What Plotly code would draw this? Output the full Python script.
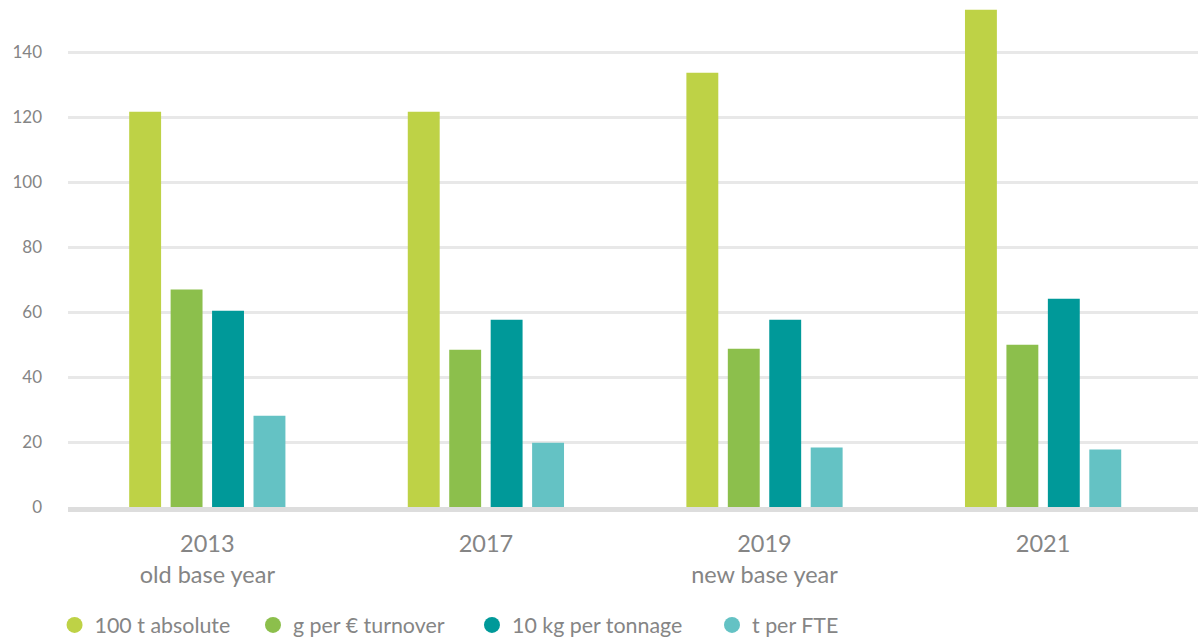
import plotly.graph_objects as go

categories = ["2013<br>old base year", "2017", "2019<br>new base year", "2021"]
series_names = ["100 t absolute", "g per € turnover", "10 kg per tonnage", "t per FTE"]
absolute_100t = [121.6, 121.6, 133.6, 153.0]
g_per_eur = [66.9, 48.4, 48.7, 49.9]
kg10_per_tonnage = [60.4, 57.6, 57.6, 64.1]
t_per_fte = [28.1, 19.8, 18.3, 17.7]
colors = ["#BED246", "#8CBF4C", "#009999", "#64C2C4"]
y_ticks = [0, 20, 40, 60, 80, 100, 120, 140]

values = [absolute_100t, g_per_eur, kg10_per_tonnage, t_per_fte]
legend_ids = ["legend", "legend2", "legend3", "legend4"]
legend_x = [-0.0119, 0.1637, 0.3575, 0.5699]

gray = "#858585"
fig = go.Figure()
for name, vals, col in zip(series_names, values, colors):
    fig.add_trace(go.Bar(x=categories, y=vals, name=name, marker=dict(color=col, line=dict(width=0)),
                         showlegend=False))
for name, col, lid in zip(series_names, colors, legend_ids):
    fig.add_trace(go.Scatter(x=[None], y=[None], mode="markers", name=name, legend=lid,
                             marker=dict(symbol="circle", size=18, color=col)))

legend_common = dict(orientation="h", xanchor="left", y=-0.2327, yanchor="middle",
                     font=dict(size=21.4, color=gray, family="Lato"), itemwidth=30,
                     bgcolor="rgba(0,0,0,0)")
layout_legends = {}
for lid, lx in zip(legend_ids, legend_x):
    layout_legends[lid] = dict(legend_common, x=lx)

fig.update_layout(
    width=1198, height=638,
    margin=dict(l=68, r=0, t=0, b=131, autoexpand=False),
    paper_bgcolor="white", plot_bgcolor="white",
    barmode="group", bargap=0.405, bargroupgap=0.23,
    font=dict(family="Lato", color=gray),
    showlegend=True,
    **layout_legends,
)
fig.update_xaxes(
    range=[-0.5, 3.556], showgrid=False, showline=True, linecolor="#dddddd", linewidth=5,
    ticks="", ticklabelstandoff=12, automargin=False,
    tickfont=dict(size=23.5, color=gray, family="Lato"), zeroline=False,
)
fig.update_yaxes(
    range=[0, 156], tickvals=y_ticks, showgrid=True, gridcolor="#e8e8e8", gridwidth=2.5,
    zeroline=False, showline=False, ticks="", ticklabelstandoff=25, automargin=False,
    tickfont=dict(size=17, color=gray, family="Lato"),
)
fig.write_html("out.html", config={"displayModeBar": False},
               post_script="document.body.style.margin='0';document.body.style.overflow='hidden';")
